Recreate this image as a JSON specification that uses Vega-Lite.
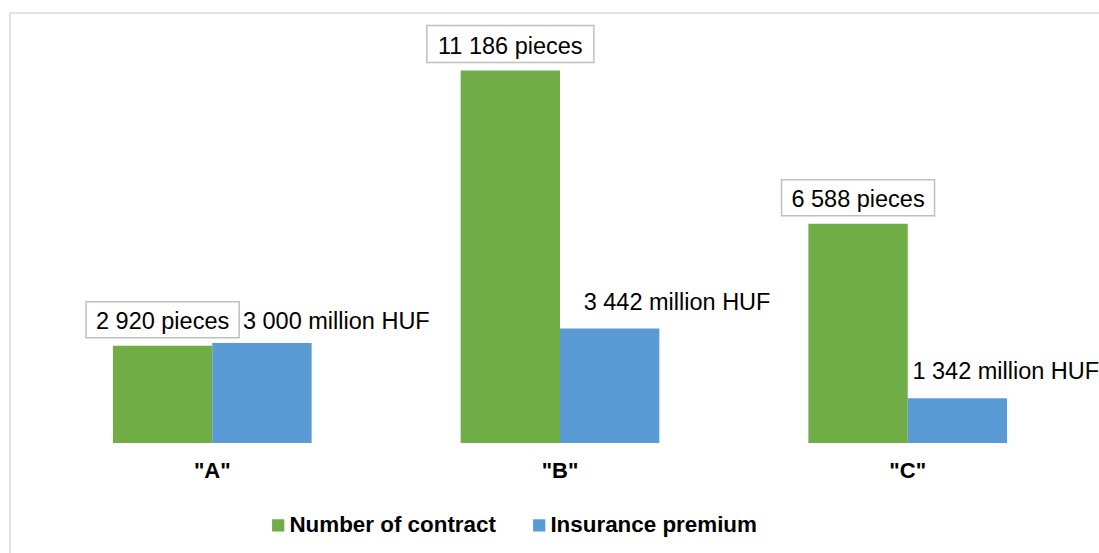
{
  "$schema": "https://vega.github.io/schema/vega-lite/v6.json",
  "width": 1100,
  "height": 545,
  "autosize": {"type": "none"},
  "padding": {"left": 10, "top": 13, "right": 0, "bottom": 0},
  "background": "white",
  "config": {
    "view": {"stroke": "#D9D9D9", "strokeWidth": 1.5},
    "font": "Liberation Sans"
  },
  "data": {
    "values": [
      {"category": "\"A\"", "series": "Number of contract", "value": 2920, "label": "2 920 pieces"},
      {"category": "\"A\"", "series": "Insurance premium", "value": 3000, "label": "3 000 million HUF"},
      {"category": "\"B\"", "series": "Number of contract", "value": 11186, "label": "11 186 pieces"},
      {"category": "\"B\"", "series": "Insurance premium", "value": 3442, "label": "3 442 million HUF"},
      {"category": "\"C\"", "series": "Number of contract", "value": 6588, "label": "6 588 pieces"},
      {"category": "\"C\"", "series": "Insurance premium", "value": 1342, "label": "1 342 million HUF"}
    ]
  },
  "encoding": {
    "x": {"field": "category", "type": "nominal", "sort": null, "scale": {"paddingInner": 0.4286, "paddingOuter": 0.296}, "axis": null},
    "y": {"field": "value", "type": "quantitative", "scale": {"domain": [-3453, 12913], "nice": false}, "axis": null}
  },
  "layer": [
    {
      "mark": {"type": "bar"},
      "encoding": {
        "xOffset": {"field": "series", "type": "nominal", "scale": {"domain": ["Number of contract", "Insurance premium"], "paddingInner": 0, "paddingOuter": 0}},
        "color": {
          "field": "series", "type": "nominal",
          "scale": {"domain": ["Number of contract", "Insurance premium"], "range": ["#70AD47", "#5B9BD5"]},
          "legend": {
            "orient": "none", "legendX": 257, "legendY": 501, "direction": "horizontal", "title": null,
            "symbolType": "square", "symbolSize": 150, "symbolStrokeWidth": 0,
            "labelFontSize": 22.4, "labelFontWeight": "bold", "labelFont": "Liberation Sans", "labelColor": "#000000",
            "labelLimit": 0, "columnPadding": 32, "labelOffset": 0, "padding": 0
          }
        }
      }
    },
    {
      "transform": [{"filter": "datum.series === 'Number of contract' && datum.category !== '\"B\"'"}],
      "mark": {"type": "bar", "width": 153, "yOffset": -44, "y2Offset": -8, "fill": "white", "stroke": "#BFBFBF", "strokeWidth": 1.5},
      "encoding": {
        "xOffset": {"field": "series", "type": "nominal", "scale": {"domain": ["Number of contract", "Insurance premium"], "paddingInner": 0, "paddingOuter": 0}},
        "y2": {"field": "value"}
      }
    },
    {
      "transform": [{"filter": "datum.series === 'Number of contract' && datum.category === '\"B\"'"}],
      "mark": {"type": "bar", "width": 167, "yOffset": -45, "y2Offset": -8, "fill": "white", "stroke": "#BFBFBF", "strokeWidth": 1.5},
      "encoding": {
        "xOffset": {"field": "series", "type": "nominal", "scale": {"domain": ["Number of contract", "Insurance premium"], "paddingInner": 0, "paddingOuter": 0}},
        "y2": {"field": "value"}
      }
    },
    {
      "transform": [{"filter": "datum.series === 'Number of contract'"}],
      "mark": {"type": "text", "align": "center", "baseline": "alphabetic", "dy": -17, "fontSize": 23.5, "color": "#000000", "font": "Liberation Sans"},
      "encoding": {
        "xOffset": {"field": "series", "type": "nominal", "scale": {"domain": ["Number of contract", "Insurance premium"], "paddingInner": 0, "paddingOuter": 0}},
        "text": {"field": "label"}
      }
    },
    {
      "transform": [{"filter": "datum.series === 'Insurance premium' && datum.category === '\"A\"'"}],
      "mark": {"type": "text", "align": "left", "baseline": "alphabetic", "dx": -19, "dy": -14, "fontSize": 23.5, "color": "#000000", "font": "Liberation Sans"},
      "encoding": {
        "xOffset": {"field": "series", "type": "nominal", "scale": {"domain": ["Number of contract", "Insurance premium"], "paddingInner": 0, "paddingOuter": 0}},
        "text": {"field": "label"}
      }
    },
    {
      "transform": [{"filter": "datum.series === 'Insurance premium' && datum.category === '\"B\"'"}],
      "mark": {"type": "text", "align": "left", "baseline": "alphabetic", "dx": -26, "dy": -18, "fontSize": 23.5, "color": "#000000", "font": "Liberation Sans"},
      "encoding": {
        "xOffset": {"field": "series", "type": "nominal", "scale": {"domain": ["Number of contract", "Insurance premium"], "paddingInner": 0, "paddingOuter": 0}},
        "text": {"field": "label"}
      }
    },
    {
      "transform": [{"filter": "datum.series === 'Insurance premium' && datum.category === '\"C\"'"}],
      "mark": {"type": "text", "align": "left", "baseline": "alphabetic", "dx": -45, "dy": -19, "fontSize": 23.5, "color": "#000000", "font": "Liberation Sans"},
      "encoding": {
        "xOffset": {"field": "series", "type": "nominal", "scale": {"domain": ["Number of contract", "Insurance premium"], "paddingInner": 0, "paddingOuter": 0}},
        "text": {"field": "label"}
      }
    },
    {
      "transform": [{"filter": "datum.series === 'Number of contract'"}],
      "mark": {"type": "text", "align": "center", "baseline": "middle", "dy": 28, "fontSize": 22, "fontWeight": "bold", "color": "#000000", "font": "Liberation Sans"},
      "encoding": {
        "y": {"datum": 0, "type": "quantitative"},
        "text": {"field": "category"}
      }
    }
  ]
}
